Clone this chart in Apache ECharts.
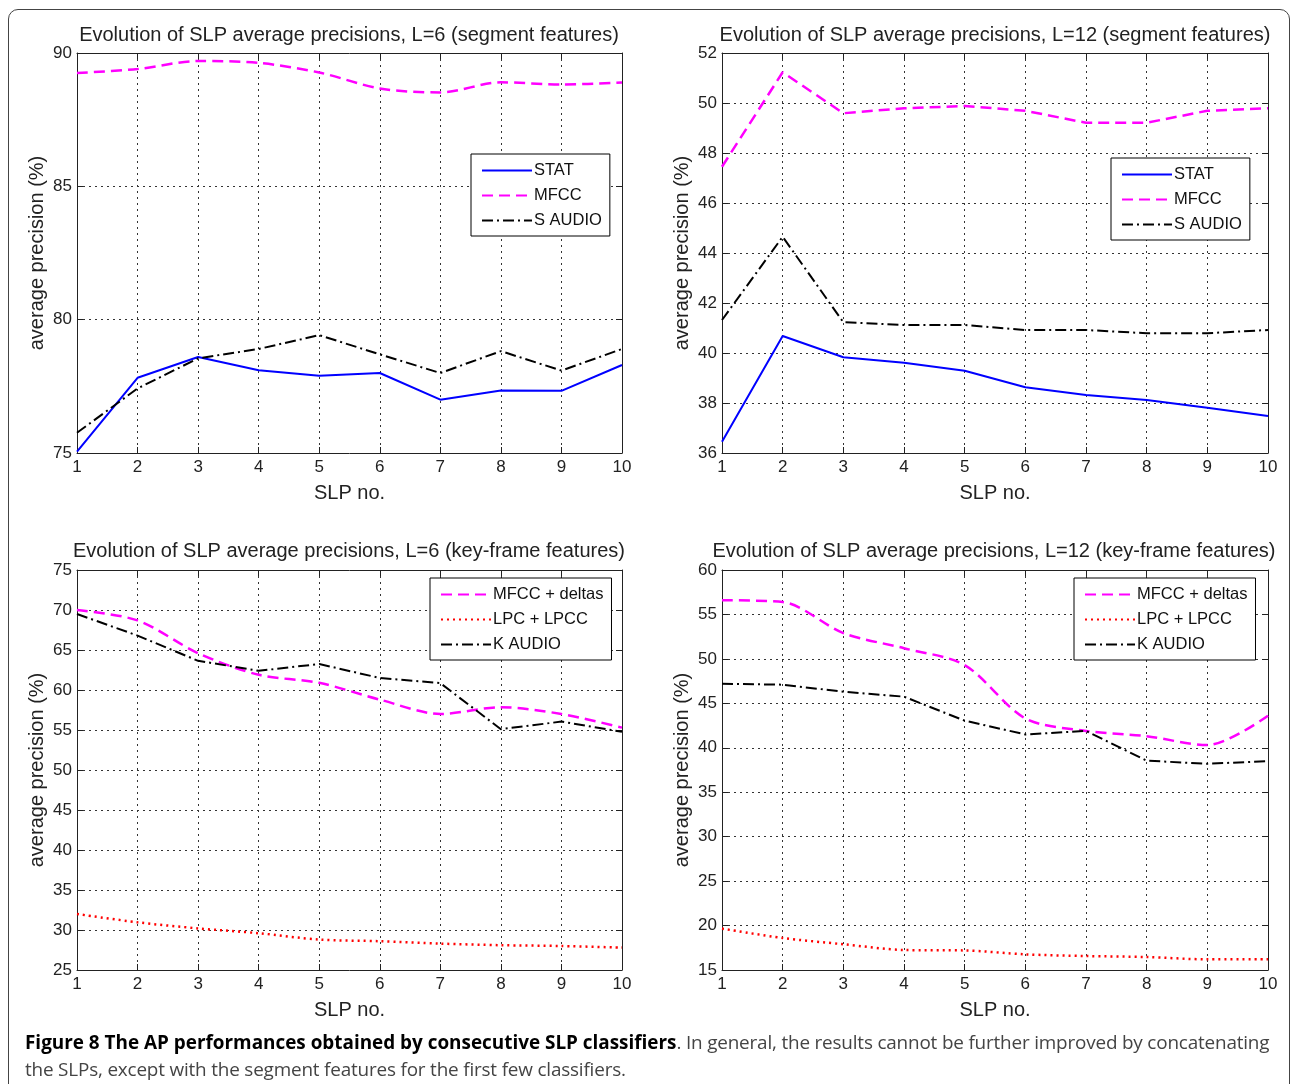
<!DOCTYPE html>
<html>
<head>
<meta charset="utf-8">
<script src="https://cdn.jsdelivr.net/npm/echarts@6/dist/echarts.min.js"></script>
<style>
  html, body { margin: 0; padding: 0; background: #fff; width: 1293px; height: 1084px; overflow: hidden; }
  #frame { position: absolute; left: 8px; top: 9px; width: 1282px; height: 1100px; border: 1px solid #444; border-radius: 10px; box-sizing: border-box; }
  #chart { position: absolute; left: 0; top: 0; width: 1293px; height: 1030px; }
  #caption { position: absolute; left: 25px; top: 1029px; width: 1262px; font-family: "Open Sans", sans-serif; font-size: 18.9px; line-height: 27px; color: #444; }
  #caption b { color: #000; font-weight: 700; }
  #caption span { letter-spacing: -0.18px; }
</style>
</head>
<body>
<div id="frame"></div>
<div id="chart"></div>
<div id="caption"><b>Figure 8 The AP performances obtained by consecutive SLP classifiers</b><span>. In general, the results cannot be further improved by concatenating the SLPs, except with the segment features for the first few classifiers.</span></div>
<script>
// ---- data ----
const slpNo = [1, 2, 3, 4, 5, 6, 7, 8, 9, 10];

const titles = [
  'Evolution of SLP average precisions, L=6 (segment features)',
  'Evolution of SLP average precisions, L=12 (segment features)',
  'Evolution of SLP average precisions, L=6 (key-frame features)',
  'Evolution of SLP average precisions, L=12 (key-frame features)'
];

const p1Stat   = [75.05, 77.82, 78.6, 78.1, 77.9, 78.0, 77.0, 77.34, 77.33, 78.3];
const p1Mfcc   = [89.25, 89.4, 89.7, 89.63, 89.27, 88.67, 88.52, 88.9, 88.82, 88.89];
const p1SAudio = [75.76, 77.42, 78.55, 78.9, 79.42, 78.7, 78.0, 78.82, 78.09, 78.9];

const p2Stat   = [36.45, 40.68, 39.83, 39.61, 39.29, 38.63, 38.32, 38.12, 37.81, 37.48];
const p2Mfcc   = [47.45, 51.23, 49.59, 49.79, 49.88, 49.69, 49.21, 49.21, 49.69, 49.79];
const p2SAudio = [41.32, 44.65, 41.23, 41.12, 41.12, 40.92, 40.92, 40.79, 40.79, 40.92];

const p3Mfcc   = [70.0, 68.7, 64.6, 61.9, 60.9, 58.8, 57.0, 57.85, 57.0, 55.3];
const p3Lpc    = [32.0, 30.96, 30.2, 29.6, 28.8, 28.6, 28.3, 28.1, 28.0, 27.8];
const p3KAudio = [69.5, 66.8, 63.65, 62.4, 63.25, 61.5, 60.86, 55.1, 56.05, 54.77];

const p4Mfcc   = [56.6, 56.4, 52.9, 51.2, 49.3, 43.3, 41.9, 41.3, 40.3, 43.6];
const p4Lpc    = [19.66, 18.6, 17.9, 17.25, 17.2, 16.76, 16.57, 16.46, 16.2, 16.2];
const p4KAudio = [47.2, 47.1, 46.3, 45.75, 43.05, 41.5, 41.9, 38.55, 38.2, 38.5];

const yRanges = [[75, 90, 5], [36, 52, 2], [25, 75, 5], [15, 60, 5]];
const xName = 'SLP no.';
const yName = 'average precision (%)';

// ---- build ----
const FONT = '"Liberation Sans", Arial, sans-serif';
const grids = [
  { left: 77, top: 53, width: 545, height: 400 },
  { left: 722, top: 53, width: 546, height: 400 },
  { left: 77, top: 570, width: 545, height: 400 },
  { left: 722, top: 570, width: 546, height: 400 }
];

const pairs = arr => slpNo.map((x, i) => [x, arr[i]]);
const dashDot = [11, 4, 2, 4];
const dashed = [11, 6];

const xAxes = [], yAxes = [], series = [];
grids.forEach((g, gi) => {
  xAxes.push({
    type: 'value', gridIndex: gi, min: 1, max: 10, interval: 1,
    name: xName, nameLocation: 'middle', nameGap: 30,
    nameTextStyle: { fontFamily: FONT, fontSize: 20, color: '#222' },
    axisLine: { lineStyle: { color: '#222', width: 1 } },
    axisTick: { inside: true, length: 6, lineStyle: { color: '#222' } },
    axisLabel: { fontFamily: FONT, fontSize: 17, color: '#222', margin: 6 },
    splitLine: { show: true, lineStyle: { color: '#333', type: [2, 4], width: 1 } }
  });
  xAxes.push({
    type: 'value', gridIndex: gi, min: 1, max: 10, interval: 1, position: 'top',
    axisLine: { lineStyle: { color: '#222' } },
    axisTick: { inside: true, length: 6, lineStyle: { color: '#222' } },
    axisLabel: { show: false }, splitLine: { show: false }
  });
  const r = yRanges[gi];
  yAxes.push({
    type: 'value', gridIndex: gi, min: r[0], max: r[1], interval: r[2],
    name: yName, nameLocation: 'middle', nameGap: 30,
    nameTextStyle: { fontFamily: FONT, fontSize: 20, color: '#222' },
    axisLine: { show: true, lineStyle: { color: '#222', width: 1 } },
    axisTick: { show: true, inside: true, length: 6, lineStyle: { color: '#222' } },
    axisLabel: { fontFamily: FONT, fontSize: 17, color: '#222', margin: 5 },
    splitLine: { show: true, lineStyle: { color: '#333', type: [2, 4], width: 1 } }
  });
  yAxes.push({
    type: 'value', gridIndex: gi, min: r[0], max: r[1], interval: r[2], position: 'right',
    axisLine: { show: true, lineStyle: { color: '#222' } },
    axisTick: { show: true, inside: true, length: 6, lineStyle: { color: '#222' } },
    axisLabel: { show: false }, splitLine: { show: false }
  });
});

function line(name, gi, arr, color, type, width, smooth) {
  return {
    type: 'line', name, xAxisIndex: gi * 2, yAxisIndex: gi * 2,
    data: pairs(arr), symbol: 'none', smooth: smooth || false,
    lineStyle: { color, type, width }, itemStyle: { color },
    emphasis: { disabled: true }, z: 3
  };
}

series.push(line('STAT', 0, p1Stat, '#0000ff', 'solid', 2));
series.push(line('MFCC', 0, p1Mfcc, '#ff00ff', dashed, 2.5, 0.3));
series.push(line('S AUDIO', 0, p1SAudio, '#000000', dashDot, 2));
series.push(line('STAT', 1, p2Stat, '#0000ff', 'solid', 2));
series.push(line('MFCC', 1, p2Mfcc, '#ff00ff', dashed, 2.5));
series.push(line('S AUDIO', 1, p2SAudio, '#000000', dashDot, 2));
series.push(line('MFCC + deltas', 2, p3Mfcc, '#ff00ff', dashed, 2.5, 0.3));
series.push(line('LPC + LPCC', 2, p3Lpc, '#ff0000', [2, 4], 2.5, 0.3));
series.push(line('K AUDIO', 2, p3KAudio, '#000000', dashDot, 2));
series.push(line('MFCC + deltas', 3, p4Mfcc, '#ff00ff', dashed, 2.5, 0.3));
series.push(line('LPC + LPCC', 3, p4Lpc, '#ff0000', [2, 4], 2.5, 0.3));
series.push(line('K AUDIO', 3, p4KAudio, '#000000', dashDot, 2));

const legendBase = {
  orient: 'vertical', itemWidth: 50, itemHeight: 14, itemGap: 8,
  padding: [8, 8, 7, 10], borderColor: '#000', borderWidth: 1, backgroundColor: '#fff',
  itemStyle: { color: 'transparent', borderColor: 'transparent', borderWidth: 0, opacity: 0 },
  textStyle: { fontFamily: FONT, fontSize: 16.5, color: '#111', padding: [0, 0, 0, -3] },
  selectedMode: false, z: 10
};
const legends = [
  Object.assign({}, legendBase, { left: 471, top: 154, data: ['STAT', 'MFCC', 'S AUDIO'] }),
  Object.assign({}, legendBase, { left: 1111, top: 158, data: ['STAT', 'MFCC', 'S AUDIO'] }),
  Object.assign({}, legendBase, { left: 430, top: 578, data: ['MFCC + deltas', 'LPC + LPCC', 'K AUDIO'] }),
  Object.assign({}, legendBase, { left: 1074, top: 578, data: ['MFCC + deltas', 'LPC + LPCC', 'K AUDIO'] })
];

const titleCenters = [[349, 25], [995, 25], [349, 541], [994, 541]];
const titleOpts = titles.map((t, i) => ({
  text: t, left: titleCenters[i][0], top: titleCenters[i][1], textAlign: 'center', padding: 0,
  textStyle: { fontFamily: FONT, fontSize: 20, fontWeight: 'normal', color: '#222' }
}));

const chart = echarts.init(document.getElementById('chart'), null, { renderer: 'canvas' });
chart.setOption({
  animation: false,
  title: titleOpts,
  legend: legends,
  grid: grids,
  xAxis: xAxes,
  yAxis: yAxes,
  series
});
</script>
</body>
</html>
